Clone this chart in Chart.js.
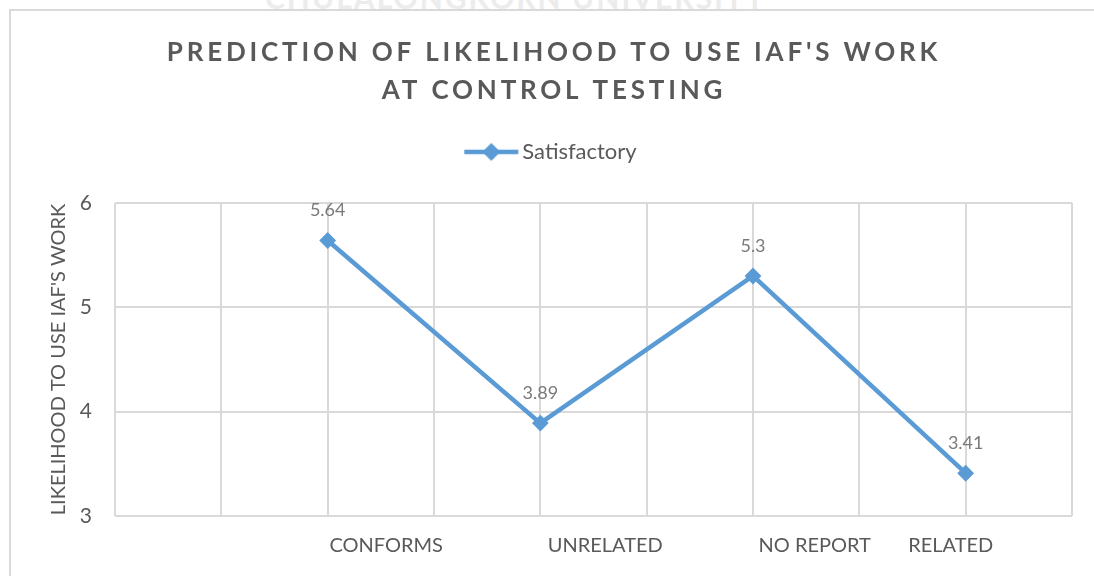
<!DOCTYPE html>
<html>
<head>
<meta charset="utf-8">
<title>Prediction of likelihood to use IAF's work</title>
<script src="https://cdn.jsdelivr.net/npm/chart.js@4.4.0/dist/chart.umd.min.js"></script>
<style>
  html, body { margin: 0; padding: 0; background: #fff; overflow: hidden; }
  #stamp {
    position: absolute; left: 265px; top: -18px;
    font: bold 30px Lato, sans-serif; letter-spacing: 2px; line-height: 30px;
    color: #ececec; white-space: nowrap;
  }
  #frame {
    position: absolute; left: 9px; top: 9px; width: 1100px; height: 600px;
    border: 2px solid #d9d9d9;
  }
  #chart-box { position: absolute; left: 11px; top: 11px; width: 1084px; height: 565px; }
</style>
</head>
<body>
<div id="stamp">CHULALONGKORN UNIVERSITY</div>
<div id="frame"></div>
<div id="chart-box"><canvas id="line-chart"></canvas></div>

<script>
// values
const categories = ["CONFORMS", "UNRELATED", "NO REPORT", "RELATED"];
const pointSlots = [2, 4, 6, 8];          // grid column of each point
const satisfactory = [5.64, 3.89, 5.3, 3.41];
const yTicks = [3, 4, 5, 6];
const seriesName = "Satisfactory";

// where the category captions sit along the grid (they are not under the points)
const labelSlots = [2.55, 4.61, 6.58, 7.86];

const BLUE = "#5B9BD5";
const GRID = "#d9d9d9";
const TEXT = "#595959";

function legendIcon() {
  const c = document.createElement("canvas");
  c.width = 56; c.height = 20;
  const g = c.getContext("2d");
  g.strokeStyle = BLUE; g.lineWidth = 4.5;
  g.beginPath(); g.moveTo(1, 10); g.lineTo(55, 10); g.stroke();
  g.fillStyle = BLUE;
  g.beginPath(); g.moveTo(28, 1); g.lineTo(37, 10); g.lineTo(28, 19); g.lineTo(19, 10); g.closePath(); g.fill();
  return c;
}

// spaced-out title letters, plus room under the legend
const layoutTweaks = {
  id: "layoutTweaks",
  afterInit(chart) {
    const tb = chart.titleBlock;
    const draw = tb.draw;
    tb.draw = function () {
      const c = this.ctx;
      c.save(); c.letterSpacing = "3.8px"; draw.call(this); c.restore();
    };
    const fit = chart.legend.fit;
    chart.legend.fit = function () { fit.call(this); this.height += 30; };
  }
};

const valueLabels = {
  id: "valueLabels",
  afterDatasetsDraw(chart) {
    const ctx = chart.ctx;
    const meta = chart.getDatasetMeta(0);
    ctx.save();
    ctx.font = "18px Lato";
    ctx.fillStyle = "#7a7a7a";
    ctx.textAlign = "center";
    ctx.textBaseline = "middle";
    meta.data.forEach((pt, i) => ctx.fillText(String(satisfactory[i]), pt.x, pt.y - 30));
    ctx.restore();
  }
};

const lineCtx = document.getElementById("line-chart").getContext("2d");

let lineChart = new Chart(lineCtx, {
  type: "line",
  data: {
    datasets: [{
      label: seriesName,
      data: satisfactory.map((v, i) => ({ x: pointSlots[i], y: v })),
      borderColor: BLUE,
      backgroundColor: BLUE,
      borderWidth: 4.5,
      tension: 0,
      pointStyle: "rectRot",
      pointRadius: 7,
      pointBorderWidth: 2,
      pointBackgroundColor: BLUE,
      pointBorderColor: BLUE
    }]
  },
  options: {
    responsive: true,
    maintainAspectRatio: false,
    animation: false,
    layout: { padding: { left: 25, right: 23, top: 0, bottom: 0 } },
    plugins: {
      title: {
        display: true,
        text: ["PREDICTION OF LIKELIHOOD TO USE IAF'S WORK", "AT CONTROL TESTING"],
        color: TEXT,
        font: { family: "Lato", size: 26, weight: "bold", lineHeight: 1.46 },
        padding: { top: 23, bottom: 21 }
      },
      legend: {
        position: "top",
        labels: {
          usePointStyle: true,
          pointStyle: legendIcon(),
          pointStyleWidth: 40,
          padding: 10,
          color: TEXT,
          font: { family: "Lato", size: 22 }
        }
      },
      tooltip: { enabled: false }
    },
    scales: {
      x: {
        type: "linear",
        position: "bottom",
        weight: 0,
        min: 0,
        max: 9,
        ticks: { display: false, stepSize: 1 },
        grid: { color: GRID, lineWidth: 2, drawTicks: false },
        border: { display: false }
      },
      x2: {
        type: "linear",
        position: "bottom",
        weight: 1,
        min: 0,
        max: 9,
        afterBuildTicks: scale => { scale.ticks = labelSlots.map(v => ({ value: v })); },
        ticks: {
          autoSkip: false,
          maxRotation: 0,
          padding: 18,
          color: TEXT,
          font: { family: "Lato", size: 20 },
          callback: (v, i) => categories[i]
        },
        grid: { display: false, drawTicks: false },
        border: { display: false }
      },
      y: {
        min: yTicks[0],
        max: yTicks[yTicks.length - 1],
        afterBuildTicks: scale => { scale.ticks = yTicks.map(v => ({ value: v })); },
        afterFit: scale => { scale.width = 79; },
        ticks: {
          padding: 23,
          color: TEXT,
          font: { family: "Lato", size: 21 }
        },
        title: {
          display: true,
          text: "LIKELIHOOD TO USE IAF'S WORK",
          color: TEXT,
          font: { family: "Lato", size: 20 },
          padding: { top: 11, bottom: 0 }
        },
        grid: { color: GRID, lineWidth: 2, drawTicks: false },
        border: { display: false }
      }
    }
  },
  plugins: [layoutTweaks, valueLabels]
});
</script>
</body>
</html>
